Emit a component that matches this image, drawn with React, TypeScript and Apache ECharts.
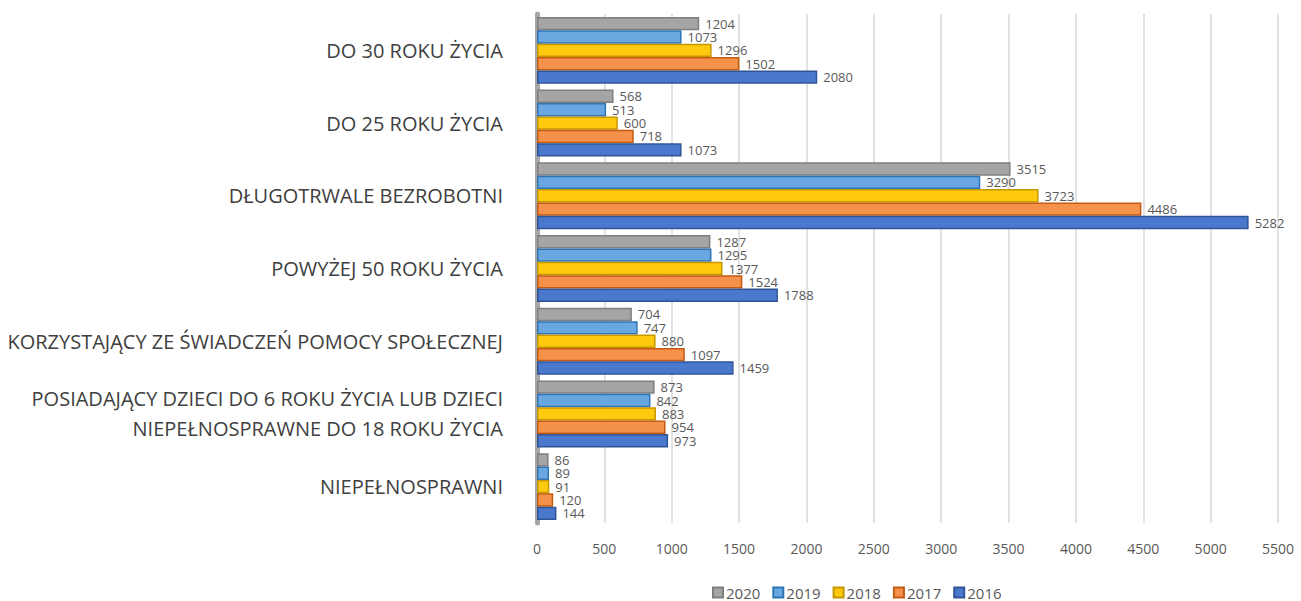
import React, { useEffect, useRef } from "react";
import * as echarts from "echarts";

const categories = [
  "DO 30 ROKU ŻYCIA",
  "DO 25 ROKU ŻYCIA",
  "DŁUGOTRWALE BEZROBOTNI",
  "POWYŻEJ 50 ROKU ŻYCIA",
  "KORZYSTAJĄCY ZE ŚWIADCZEŃ POMOCY SPOŁECZNEJ",
  "POSIADAJĄCY DZIECI DO 6 ROKU ŻYCIA LUB DZIECI\nNIEPEŁNOSPRAWNE DO 18 ROKU ŻYCIA",
  "NIEPEŁNOSPRAWNI",
];
const years = ["2020", "2019", "2018", "2017", "2016"];
const v2020 = [1204, 568, 3515, 1287, 704, 873, 86];
const v2019 = [1073, 513, 3290, 1295, 747, 842, 89];
const v2018 = [1296, 600, 3723, 1377, 880, 883, 91];
const v2017 = [1502, 718, 4486, 1524, 1097, 954, 120];
const v2016 = [2080, 1073, 5282, 1788, 1459, 973, 144];
const values = [v2020, v2019, v2018, v2017, v2016];
const colors = ["#a5a5a5", "#6aa6e0", "#ffc90e", "#f4914a", "#4a78cc"];
const borders = ["#7f7f7f", "#2e75b6", "#c59800", "#c55a11", "#2f5597"];

export default function App() {
  const ref = useRef<HTMLDivElement>(null);
  useEffect(() => {
    document.body.style.margin = "0";
    const chart = echarts.init(ref.current!, null, { renderer: "svg" });
    chart.setOption({
      animation: false,
      textStyle: { fontFamily: "Open Sans" },
      legend: {
        data: years,
        top: 585,
        left: 712,
        padding: 0,
        itemWidth: 10,
        itemHeight: 10,
        itemGap: 12,
        icon: "rect",
        textStyle: {
          color: "#595959",
          fontSize: 15,
          lineHeight: 15,
          padding: [0, 0, 0, -2],
        },
      },
      grid: { left: 537, right: 23, top: 14, bottom: 78, containLabel: false },
      xAxis: {
        type: "value",
        min: 0,
        max: 5500,
        interval: 500,
        axisLabel: {
          color: "#595959",
          fontSize: 14,
          margin: 18,
          formatter: (v: number) => String(v),
        },
        splitLine: { lineStyle: { color: "#d9d9d9", width: 1.5 } },
        axisLine: { show: false },
        axisTick: { show: false },
      },
      yAxis: {
        type: "category",
        inverse: true,
        data: categories,
        axisLabel: {
          color: "#404040",
          fontSize: 20,
          margin: 34,
          align: "right",
          lineHeight: 30,
        },
        axisLine: { lineStyle: { color: "#a6a6a6", width: 5 } },
        axisTick: { show: false },
      },
      series: years.map((y, i) => ({
        name: y,
        type: "bar",
        data: values[i],
        barGap: "0%",
        barCategoryGap: "8%",
        itemStyle: {
          color: colors[i],
          borderColor: borders[i],
          borderWidth: 1.5,
        },
        label: {
          show: true,
          position: "right",
          distance: 6,
          color: "#595959",
          fontSize: 13,
          lineHeight: 12,
        },
      })),
    });
    return () => chart.dispose();
  }, []);
  return <div ref={ref} style={{ width: 1301, height: 601 }} />;
}
